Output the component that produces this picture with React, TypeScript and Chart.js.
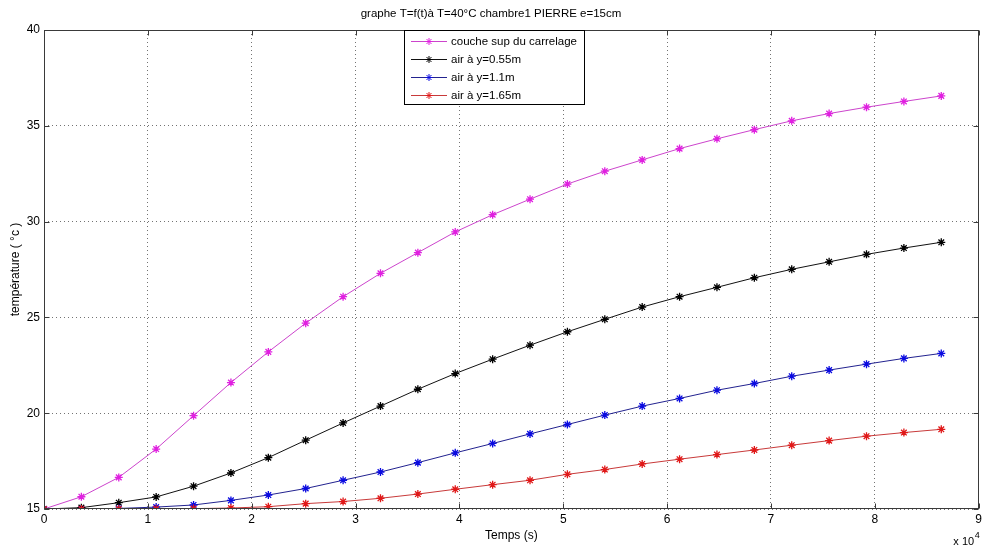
import React, { useEffect, useRef } from "react";
import { Chart, registerables } from "chart.js";

Chart.register(...registerables);

// ---- data ----
const timesSec = [
  0, 3600, 7200, 10800, 14400, 18000, 21600, 25200, 28800, 32400, 36000, 39600,
  43200, 46800, 50400, 54000, 57600, 61200, 64800, 68400, 72000, 75600, 79200,
  82800, 86400,
];
const coucheSup = [
  15, 15.64, 16.65, 18.13, 19.87, 21.6, 23.2, 24.7, 26.08, 27.3, 28.38, 29.46,
  30.36, 31.17, 31.96, 32.63, 33.22, 33.81, 34.32, 34.8, 35.26, 35.64, 35.97,
  36.27, 36.56,
];
const air055 = [
  15, 15.07, 15.33, 15.63, 16.19, 16.88, 17.68, 18.59, 19.49, 20.37, 21.25,
  22.07, 22.82, 23.55, 24.25, 24.9, 25.54, 26.08, 26.57, 27.07, 27.51, 27.9,
  28.29, 28.62, 28.92,
];
const air110 = [
  15, 15.0, 15.03, 15.1, 15.21, 15.45, 15.73, 16.07, 16.5, 16.93, 17.42, 17.93,
  18.42, 18.92, 19.41, 19.9, 20.37, 20.77, 21.2, 21.55, 21.93, 22.25, 22.56,
  22.86, 23.12,
];
const air165 = [
  15, 15.0, 15.0, 15.01, 15.02, 15.05, 15.12, 15.28, 15.39, 15.56, 15.78, 16.03,
  16.27, 16.5, 16.81, 17.06, 17.35, 17.6, 17.84, 18.08, 18.33, 18.57, 18.8,
  18.99, 19.16,
];
const seriesLabels = [
  "couche sup du carrelage",
  "air à y=0.55m",
  "air à y=1.1m",
  "air à y=1.65m",
];
const lineColors = ["#cc44cc", "#111111", "#22228f", "#c83a3a"];
const markerColors = ["#e020e0", "#000000", "#0a0ae0", "#e01818"];
const xTickValues = [0, 1, 2, 3, 4, 5, 6, 7, 8, 9]; // x 10^4 s
const yTickValues = [15, 20, 25, 30, 35, 40];
const xScaleFactor = 10000;
const titleText = "graphe T=f(t)à T=40°C chambre1 PIERRE e=15cm";
const xTitle = "Temps (s)";
const yTitle = "température ( °c )";
const exponentBase = "x 10";
const exponentPower = "4";

const FONT = '"Liberation Sans", Arial, sans-serif';

function drawStar(ctx: CanvasRenderingContext2D, x: number, y: number, r: number) {
  ctx.beginPath();
  ctx.moveTo(x - r, y);
  ctx.lineTo(x + r, y);
  ctx.moveTo(x, y - r);
  ctx.lineTo(x, y + r);
  const d = r * 0.7071;
  ctx.moveTo(x - d, y - d);
  ctx.lineTo(x + d, y + d);
  ctx.moveTo(x - d, y + d);
  ctx.lineTo(x + d, y - d);
  ctx.stroke();
}

const matlabDecor = {
  id: "matlabDecor",
  afterDraw(chart: any) {
    const ctx: CanvasRenderingContext2D = chart.ctx;
    const { left, right, top, bottom } = chart.chartArea;
    const xs = chart.scales.x;
    const ys = chart.scales.y;
    ctx.save();
    // frame
    ctx.strokeStyle = "#3a3a3a";
    ctx.lineWidth = 1;
    ctx.setLineDash([]);
    const L = Math.round(left) + 0.5;
    const R = Math.round(right) - 0.5;
    const T = Math.round(top) + 0.5;
    const B = Math.round(bottom) - 0.5;
    ctx.strokeRect(L, T, R - L, B - T);
    // inward ticks
    const tl = 5;
    ctx.beginPath();
    xTickValues.forEach((v) => {
      const px = Math.round(xs.getPixelForValue(v * xScaleFactor)) + 0.5;
      ctx.moveTo(px, B);
      ctx.lineTo(px, B - tl);
      ctx.moveTo(px, T);
      ctx.lineTo(px, T + tl);
    });
    yTickValues.forEach((v) => {
      const py = Math.round(ys.getPixelForValue(v)) + 0.5;
      ctx.moveTo(L, py);
      ctx.lineTo(L + tl, py);
      ctx.moveTo(R, py);
      ctx.lineTo(R - tl, py);
    });
    ctx.stroke();

    // exponent label
    ctx.fillStyle = "#000";
    ctx.textBaseline = "alphabetic";
    ctx.textAlign = "right";
    ctx.font = `9px ${FONT}`;
    ctx.fillText(exponentPower, right + 1, bottom + 29);
    const pw = ctx.measureText(exponentPower).width;
    ctx.font = `11px ${FONT}`;
    ctx.fillText(exponentBase, right + 1 - pw - 0.5, bottom + 36);

    // legend
    const lx = left + 360;
    const lw = 180;
    const ly = top;
    const rowH = 18;
    const lh = 74;
    ctx.fillStyle = "#ffffff";
    ctx.fillRect(lx, ly, lw, lh);
    ctx.strokeStyle = "#000";
    ctx.strokeRect(Math.round(lx) + 0.5, Math.round(ly) + 0.5, lw, lh);
    ctx.textAlign = "left";
    ctx.textBaseline = "middle";
    ctx.font = `11.5px ${FONT}`;
    chart.data.datasets.forEach((ds: any, i: number) => {
      const cy = Math.round(ly + 11 + i * rowH) + 0.5;
      ctx.strokeStyle = ds.borderColor;
      ctx.lineWidth = 1;
      ctx.beginPath();
      ctx.moveTo(lx + 7, cy);
      ctx.lineTo(lx + 43, cy);
      ctx.stroke();
      ctx.strokeStyle = ds.pointBorderColor;
      drawStar(ctx, lx + 25, cy, 3.5);
      ctx.fillStyle = "#000";
      ctx.fillText(ds.label, lx + 47, cy + 0.5);
    });
    ctx.restore();
  },
};

export default function App() {
  const ref = useRef<HTMLCanvasElement | null>(null);
  useEffect(() => {
    if (!ref.current) return;
    const series = [coucheSup, air055, air110, air165];
    const datasets = series.map((vals, i) => ({
      label: seriesLabels[i],
      data: timesSec.map((t, j) => ({ x: t, y: vals[j] })),
      borderColor: lineColors[i],
      backgroundColor: markerColors[i],
      borderWidth: 1,
      pointStyle: "star" as const,
      pointRadius: 4,
      pointBorderWidth: 1.3,
      pointBorderColor: markerColors[i],
      fill: false,
      tension: 0,
      order: 3 - i,
    }));
    const tickFont = { family: FONT, size: 12, weight: "normal" as const };
    const chart = new Chart(ref.current, {
      type: "line",
      data: { datasets },
      options: {
        animation: false,
        responsive: false,
        maintainAspectRatio: false,
        layout: { padding: { left: 0, right: 3, top: 0, bottom: 0 } },
        plugins: {
          legend: { display: false },
          tooltip: { enabled: false },
          title: {
            display: true,
            text: titleText,
            color: "#000",
            font: { family: FONT, size: 11.5, weight: "normal" },
            padding: { top: 7, bottom: 9.2 },
          },
        },
        scales: {
          x: {
            type: "linear",
            min: 0,
            max: 9 * xScaleFactor,
            afterFit: (s: any) => {
              s.height = 40;
            },
            afterBuildTicks: (s: any) => {
              s.ticks = xTickValues.map((v) => ({ value: v * xScaleFactor }));
            },
            ticks: {
              color: "#000",
              font: tickFont,
              padding: 3,
              maxRotation: 0,
              autoSkip: false,
              callback: (v: any) => String(Number(v) / xScaleFactor),
            },
            grid: { color: "rgba(0,0,0,0.55)", drawTicks: false, lineWidth: 1 },
            border: { display: false, dash: [1, 3] },
            title: {
              display: true,
              text: xTitle,
              color: "#000",
              font: { family: FONT, size: 12, weight: "normal" },
              padding: { top: 0, bottom: 6 },
            },
          },
          y: {
            type: "linear",
            min: 15,
            max: 40,
            afterFit: (s: any) => {
              s.width = 44;
            },
            afterBuildTicks: (s: any) => {
              s.ticks = yTickValues.map((v) => ({ value: v }));
            },
            ticks: {
              color: "#000",
              font: tickFont,
              padding: 4,
              autoSkip: false,
              callback: (v: any) => String(v),
            },
            grid: { color: "rgba(0,0,0,0.55)", drawTicks: false, lineWidth: 1 },
            border: { display: false, dash: [1, 3] },
            title: {
              display: true,
              text: yTitle,
              color: "#000",
              font: { family: FONT, size: 12, weight: "normal" },
              padding: { top: 8, bottom: 0 },
            },
          },
        },
      },
      plugins: [matlabDecor],
    });
    return () => chart.destroy();
  }, []);
  return (
    <div style={{ position: "fixed", left: 0, top: 0, width: 985, height: 549, background: "#fff" }}>
      <canvas ref={ref} width={985} height={549} />
    </div>
  );
}
